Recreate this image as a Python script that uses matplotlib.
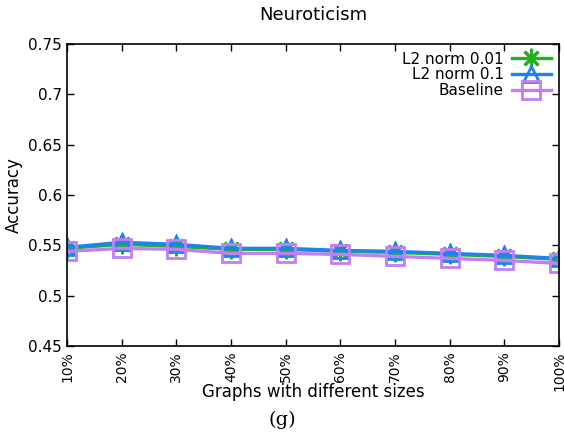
import matplotlib
matplotlib.use("Agg")
import matplotlib.pyplot as plt

categories = ["10%", "20%", "30%", "40%", "50%", "60%", "70%", "80%", "90%", "100%"]
l2_001 = [0.547, 0.551, 0.549, 0.546, 0.546, 0.544, 0.543, 0.541, 0.539, 0.536]
l2_01 = [0.548, 0.553, 0.551, 0.547, 0.547, 0.545, 0.544, 0.542, 0.540, 0.537]
baseline = [0.544, 0.547, 0.546, 0.542, 0.542, 0.541, 0.539, 0.537, 0.535, 0.532]
yticks = [0.45, 0.5, 0.55, 0.6, 0.65, 0.7, 0.75]
ytick_labels = ["0.45", "0.5", "0.55", "0.6", "0.65", "0.7", "0.75"]

fig = plt.figure(figsize=(5.64, 4.41), dpi=100)
ax = fig.add_axes([67/564, 1-346/441, (559-67)/564, (346-44)/441])
x = list(range(len(categories)))

ax.plot(x, l2_001, color="#1fb41f", lw=2.4, marker=(8, 2, 0), ms=14, mew=2,
        label="L2 norm 0.01")
ax.plot(x, l2_01, color="#1e82f0", lw=2.4, marker="^", ms=11, mew=2,
        mfc="none", label="L2 norm 0.1")
ax.plot(x, baseline, color="#c080f4", lw=2.4, marker="s", ms=13, mew=2,
        mfc="none", label="Baseline")

ax.set_xlim(0, len(categories) - 1)
ax.set_ylim(0.45, 0.75)
ax.set_xticks(x)
ax.set_xticklabels(categories, rotation=90, fontsize=10)
ax.set_yticks(yticks)
ax.set_yticklabels(ytick_labels, fontsize=11)
ax.tick_params(direction="in", top=True, right=True, length=5, width=1)
ax.tick_params(axis="x", pad=4)
for s in ax.spines.values():
    s.set_linewidth(1.2)

ax.set_xlabel("Graphs with different sizes", fontsize=12, labelpad=-6)
ax.set_ylabel("Accuracy", fontsize=12, labelpad=4)
ax.set_title("Neuroticism", fontsize=13, pad=17)

leg = ax.legend(loc="upper right", frameon=False, markerfirst=False,
                fontsize=11, handlelength=2.6, borderaxespad=0.1,
                labelspacing=0.05, handletextpad=0.5)
for t in leg.get_texts():
    t.set_ha("right")

fig.text(0.5, 1-420/441, "(g)", ha="center", va="center",
         fontsize=14, family="DejaVu Serif")

fig.savefig("out.png", dpi=100)
